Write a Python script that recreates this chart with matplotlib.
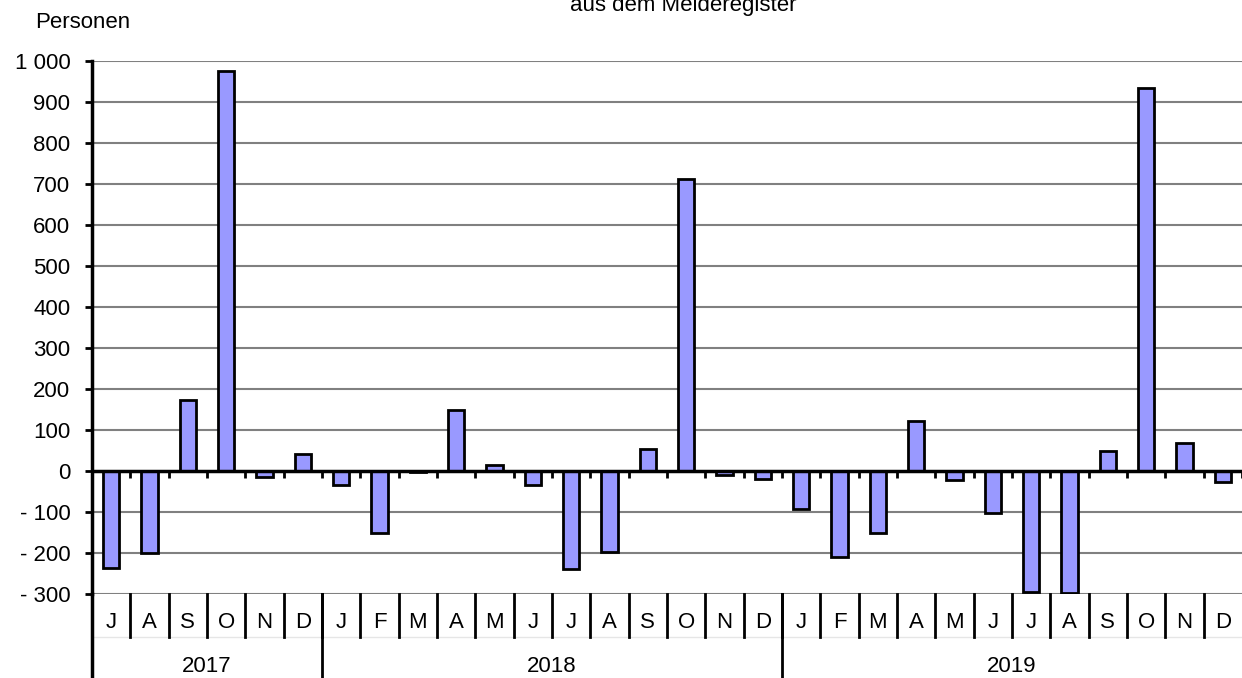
import matplotlib
matplotlib.use('Agg')
import matplotlib.pyplot as plt
import matplotlib.transforms as mtransforms

plt.rcParams['font.family'] = ['Liberation Sans', 'DejaVu Sans']

# Monatliche Werte Juli 2017 - Dezember 2019
months = ['J', 'A', 'S', 'O', 'N', 'D',
          'J', 'F', 'M', 'A', 'M', 'J', 'J', 'A', 'S', 'O', 'N', 'D',
          'J', 'F', 'M', 'A', 'M', 'J', 'J', 'A', 'S', 'O', 'N', 'D']
values = [-237, -200, 173, 976, -15, 41,
          -33, -150, -3, 148, 14, -33, -240, -198, 54, 712, -10, -20,
          -92, -210, -152, 123, -23, -103, -295, -298, 49, 934, 69, -28]
years = ['2017', '2018', '2019']
year_counts = [6, 12, 12]
yticks = [-300, -200, -100, 0, 100, 200, 300, 400, 500, 600, 700, 800, 900, 1000]

FS = 16
W, H = 1242, 678
fig = plt.figure(figsize=(W / 100, H / 100), dpi=100)
ax = fig.add_axes([92 / W, (H - 594) / H, (W - 92) / W, (594 - 61) / H])

x = range(len(values))
ax.bar(x, values, width=0.42, color='#9999ff', edgecolor='black', linewidth=2, zorder=3)

ax.set_xlim(-0.5, len(values) - 0.5)
ax.set_ylim(-300, 1000)
ax.set_yticks(yticks)
ax.set_yticklabels([f'{v:,}'.replace(',', ' ').replace('-', '- ') for v in yticks], fontsize=FS)
for v in yticks:
    if v != 0:
        ax.axhline(v, color='#808080', linewidth=1.5, zorder=1)
ax.axhline(0, color='black', linewidth=2.5, zorder=4)

for s in ['top', 'right', 'bottom']:
    ax.spines[s].set_visible(False)
ax.spines['left'].set_linewidth(2.5)
ax.tick_params(axis='y', direction='out', length=5, width=2, pad=10.5)
ax.set_xticks([])

# Striche an der Nulllinie
ax.vlines([i + 0.5 for i in range(len(values))], -17, 0, color='black', linewidth=2, zorder=4)

# Kategorienachse unter dem Diagramm
tr = mtransforms.blended_transform_factory(ax.transData, ax.transAxes)
axes_h = 594 - 61
month_bottom = -(637 - 594) / axes_h
year_bottom = -(H - 594) / axes_h
ax.plot([-0.5, len(values) - 0.5], [month_bottom, month_bottom], color='#e6e6e6',
        linewidth=1, transform=tr, clip_on=False)
ax.plot([-0.5, -0.5], [0, year_bottom], color='black', linewidth=2.5, transform=tr, clip_on=False)
for i, m in enumerate(months):
    ax.text(i, -(622 - 594) / axes_h, m, transform=tr, ha='center', va='center', fontsize=FS)
    if i > 0:
        ax.plot([i - 0.5, i - 0.5], [0, month_bottom], color='black', linewidth=2,
                transform=tr, clip_on=False)
start = 0
for y, n in zip(years, year_counts):
    ax.text(start + n / 2 - 0.5, -(667 - 594) / axes_h, y, transform=tr,
            ha='center', va='center', fontsize=FS)
    if start > 0:
        ax.plot([start - 0.5, start - 0.5], [0, year_bottom], color='black', linewidth=2,
                transform=tr, clip_on=False)
    start += n

fig.text(35 / W, 1 - 22 / H, 'Personen', ha='left', va='center', fontsize=FS)
# Titel oben angeschnitten wie im Original
fig.text(683 / W, 1 - 11 / H, 'aus dem Melderegister', ha='center', va='baseline', fontsize=FS)

fig.savefig('out.png', dpi=100)
